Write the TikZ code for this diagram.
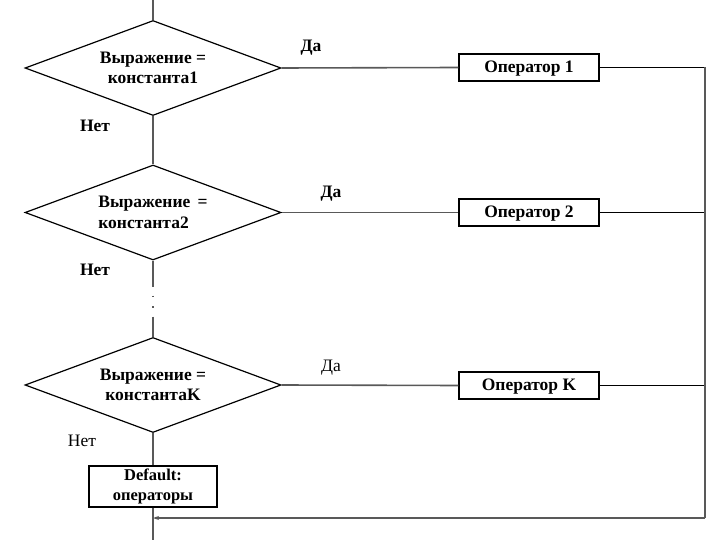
\documentclass[tikz,border=0pt]{standalone}
\usepackage{fontspec}
\setmainfont{Liberation Serif}
\usetikzlibrary{shapes.geometric,arrows.meta}
\begin{document}
\begin{tikzpicture}[x=1pt,y=-1pt,
  dec/.style={diamond,aspect=2.7,draw=black,line width=1.2pt,minimum width=256pt,minimum height=95pt,inner sep=0pt,font=\fontsize{17.5}{20.5}\selectfont\bfseries,align=center},
  opbox/.style={rectangle,draw=black,line width=1.2pt,minimum width=140pt,minimum height=27pt,inner sep=0pt,text depth=1pt,font=\fontsize{17.5}{20}\selectfont\bfseries},
  conn/.style={draw=black!65,line width=1.6pt},
  thin/.style={draw=black,line width=1.1pt},
  lbl/.style={font=\fontsize{17.5}{20}\selectfont\bfseries},
  lblr/.style={font=\fontsize{17.5}{20}\selectfont}]
\useasboundingbox (0,0) rectangle (720,540);
\node[dec] (d1) at (153,68) {Выражение =\\константа1};
\node[dec,align=left] (d2) at (153,212.5) {Выражение \,=\\константа2};
\node[dec] (d3) at (153,385) {Выражение =\\константаK};
\node[opbox] (b1) at (529,67.5) {Оператор 1};
\node[opbox] (b2) at (529,212.5) {Оператор 2};
\node[opbox] (bk) at (529,385.5) {Оператор K};
\node[rectangle,draw=black,line width=1.2pt,minimum width=128pt,minimum height=41pt,inner sep=0pt,font=\fontsize{16.5}{20}\selectfont\bfseries,align=center] (def) at (153,486.5) {Default:\\операторы};
\coordinate (top) at (153,0);
\coordinate (bot) at (153,540);
\coordinate (r1) at (705,67.5);
\coordinate (r2) at (705,212.5);
\coordinate (rk) at (705,385.5);
\coordinate (rb) at (705,518);
\coordinate (ab) at (153,518);
\coordinate (g1) at (153,285);
\coordinate (g2) at (153,317);
\node[lbl] (y1) at (311,48) {Да};
\node[lbl] (y2) at (331,194) {Да};
\node[lblr] (y3) at (331,368) {Да};
\node[lbl] (n1) at (95,126) {Нет};
\node[lbl] (n2) at (95,270) {Нет};
\node[lblr] (n3) at (82,441) {Нет};
\draw[conn] (top) -- (d1.north);
\draw[conn] (d1.south) -- (d2.north);
\draw[conn] (d2.south) -- (g1);
\draw[conn,line width=1.3pt,dash pattern=on 1.5pt off 9pt] (g1) -- (g2);
\draw[conn] (g2) -- (d3.north);
\draw[conn] (d3.south) -- (def.north);
\draw[conn] (def.south) -- (bot);
\draw[conn] (d1.east) -- (b1.west);
\draw[conn] (d2.east) -- (b2.west);
\draw[conn] (d3.east) -- (bk.west);
\draw[thin] (b1.east) -- (r1);
\draw[thin] (b2.east) -- (r2);
\draw[thin] (bk.east) -- (rk);
\draw[conn] (r1) -- (rb);
\draw[conn,-{Stealth[length=6pt,width=4pt]}] (rb) -- (ab);
\end{tikzpicture}
\end{document}
